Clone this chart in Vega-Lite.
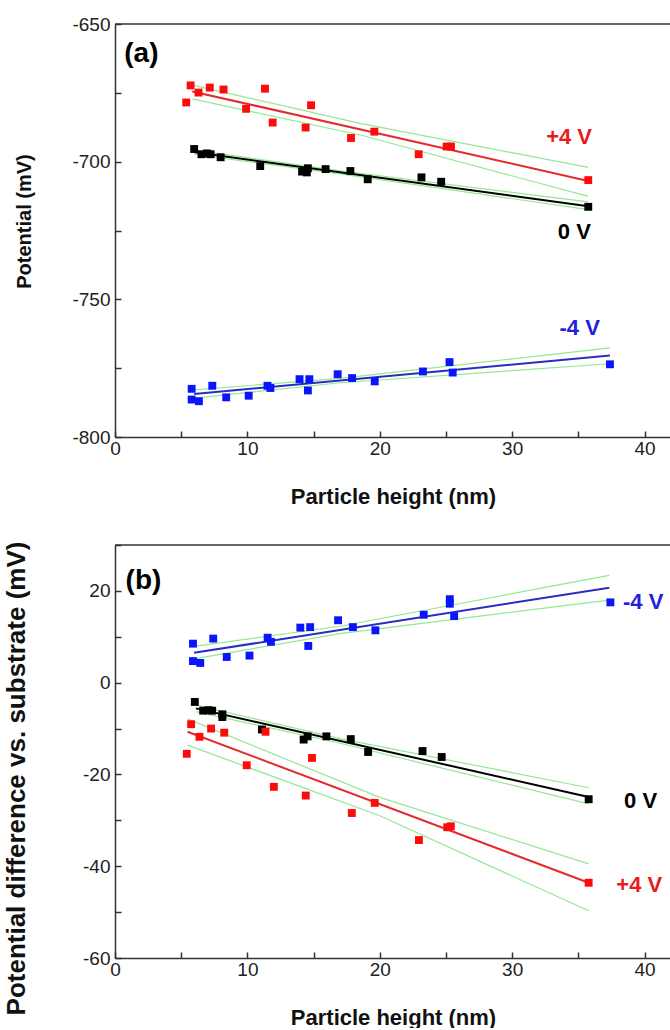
{
  "$schema": "https://vega.github.io/schema/vega-lite/v6.json",
  "background": "white",
  "padding": {"left": 2, "top": 15, "right": 0, "bottom": 0},
  "spacing": 29,
  "config": {
    "view": {"stroke": null},
    "font": "Liberation Sans",
    "axis": {
      "domainColor": "#333", "domainWidth": 1.5, "tickColor": "#333", "tickWidth": 1.5,
      "tickSize": -6, "labelPadding": 8, "labelFont": "Liberation Sans", "labelFontSize": 19,
      "labelColor": "#222", "titleFont": "Liberation Sans", "titleFontSize": 22, "titleFontWeight": "bold",
      "titleColor": "#111", "grid": false, "labelOverlap": false, "labelFlush": false
    }
  },
  "datasets": {
    "apts": [
      {"s": "+4 V", "h": 5.38, "v": -678.5}, {"s": "+4 V", "h": 5.71, "v": -672.3}, {"s": "+4 V", "h": 6.31, "v": -674.9},
      {"s": "+4 V", "h": 7.16, "v": -673.1}, {"s": "+4 V", "h": 8.2, "v": -673.8}, {"s": "+4 V", "h": 9.9, "v": -680.8},
      {"s": "+4 V", "h": 11.33, "v": -673.5}, {"s": "+4 V", "h": 11.91, "v": -685.8}, {"s": "+4 V", "h": 14.4, "v": -687.6},
      {"s": "+4 V", "h": 14.81, "v": -679.5}, {"s": "+4 V", "h": 17.83, "v": -691.4}, {"s": "+4 V", "h": 19.59, "v": -689.1},
      {"s": "+4 V", "h": 22.94, "v": -697.3}, {"s": "+4 V", "h": 25.05, "v": -694.5}, {"s": "+4 V", "h": 25.38, "v": -694.5},
      {"s": "+4 V", "h": 35.75, "v": -706.7},
      {"s": "0 V", "h": 5.98, "v": -695.4}, {"s": "0 V", "h": 6.53, "v": -697.3}, {"s": "0 V", "h": 6.94, "v": -697.0},
      {"s": "0 V", "h": 7.22, "v": -697.3}, {"s": "0 V", "h": 7.98, "v": -698.4}, {"s": "0 V", "h": 10.97, "v": -701.6},
      {"s": "0 V", "h": 14.13, "v": -703.6}, {"s": "0 V", "h": 14.49, "v": -703.9}, {"s": "0 V", "h": 14.57, "v": -702.4},
      {"s": "0 V", "h": 15.91, "v": -702.7}, {"s": "0 V", "h": 17.78, "v": -703.4}, {"s": "0 V", "h": 19.09, "v": -706.4},
      {"s": "0 V", "h": 23.15, "v": -705.7}, {"s": "0 V", "h": 24.64, "v": -707.3}, {"s": "0 V", "h": 35.75, "v": -716.4},
      {"s": "-4 V", "h": 5.79, "v": -782.5}, {"s": "-4 V", "h": 5.79, "v": -786.4}, {"s": "-4 V", "h": 6.34, "v": -787.0},
      {"s": "-4 V", "h": 7.35, "v": -781.4}, {"s": "-4 V", "h": 8.4, "v": -785.6}, {"s": "-4 V", "h": 10.1, "v": -785.0},
      {"s": "-4 V", "h": 11.52, "v": -781.4}, {"s": "-4 V", "h": 11.74, "v": -782.2}, {"s": "-4 V", "h": 13.94, "v": -779.0},
      {"s": "-4 V", "h": 14.68, "v": -779.0}, {"s": "-4 V", "h": 14.57, "v": -783.1}, {"s": "-4 V", "h": 16.82, "v": -777.2},
      {"s": "-4 V", "h": 17.91, "v": -778.6}, {"s": "-4 V", "h": 19.62, "v": -779.8}, {"s": "-4 V", "h": 23.26, "v": -776.2},
      {"s": "-4 V", "h": 25.27, "v": -772.8}, {"s": "-4 V", "h": 25.51, "v": -776.6}, {"s": "-4 V", "h": 37.39, "v": -773.6}
    ],
    "afit": [
      {"s": "+4 V", "k": "fit", "h": 5.84, "v": -674.5}, {"s": "+4 V", "k": "fit", "h": 35.75, "v": -707.0},
      {"s": "+4 V", "k": "upper", "h": 5.84, "v": -672.2}, {"s": "+4 V", "k": "upper", "h": 18.6, "v": -686.2}, {"s": "+4 V", "k": "upper", "h": 35.75, "v": -702.1},
      {"s": "+4 V", "k": "lower", "h": 5.84, "v": -677.2}, {"s": "+4 V", "k": "lower", "h": 18.6, "v": -690.4}, {"s": "+4 V", "k": "lower", "h": 35.75, "v": -712.6},
      {"s": "0 V", "k": "fit", "h": 6.0, "v": -696.6}, {"s": "0 V", "k": "fit", "h": 35.75, "v": -716.2},
      {"s": "0 V", "k": "upper", "h": 6.0, "v": -695.8}, {"s": "0 V", "k": "upper", "h": 17, "v": -703.3}, {"s": "0 V", "k": "upper", "h": 35.75, "v": -714.6},
      {"s": "0 V", "k": "lower", "h": 6.0, "v": -697.4}, {"s": "0 V", "k": "lower", "h": 17, "v": -704.4}, {"s": "0 V", "k": "lower", "h": 35.75, "v": -717.4},
      {"s": "-4 V", "k": "fit", "h": 5.98, "v": -784.4}, {"s": "-4 V", "k": "fit", "h": 37.39, "v": -770.4},
      {"s": "-4 V", "k": "upper", "h": 5.98, "v": -782.9}, {"s": "-4 V", "k": "upper", "h": 17, "v": -778.7}, {"s": "-4 V", "k": "upper", "h": 37.39, "v": -767.6},
      {"s": "-4 V", "k": "lower", "h": 5.98, "v": -785.9}, {"s": "-4 V", "k": "lower", "h": 17, "v": -780.3}, {"s": "-4 V", "k": "lower", "h": 37.39, "v": -773.4}
    ],
    "albl": [
      {"s": "+4 V", "h": 34.3, "v": -690.9}, {"s": "0 V", "h": 34.7, "v": -725.6}, {"s": "-4 V", "h": 35.1, "v": -760.5}
    ],
    "bpts": [
      {"s": "-4 V", "h": 5.89, "v": 8.5}, {"s": "-4 V", "h": 5.89, "v": 4.7}, {"s": "-4 V", "h": 6.44, "v": 4.3},
      {"s": "-4 V", "h": 7.42, "v": 9.6}, {"s": "-4 V", "h": 8.44, "v": 5.6}, {"s": "-4 V", "h": 10.16, "v": 5.9},
      {"s": "-4 V", "h": 11.53, "v": 9.8}, {"s": "-4 V", "h": 11.78, "v": 8.9}, {"s": "-4 V", "h": 14.0, "v": 12.0},
      {"s": "-4 V", "h": 14.74, "v": 12.1}, {"s": "-4 V", "h": 14.6, "v": 8.0}, {"s": "-4 V", "h": 16.85, "v": 13.6},
      {"s": "-4 V", "h": 17.97, "v": 12.1}, {"s": "-4 V", "h": 19.67, "v": 11.4}, {"s": "-4 V", "h": 23.32, "v": 14.8},
      {"s": "-4 V", "h": 25.29, "v": 18.2}, {"s": "-4 V", "h": 25.29, "v": 17.2}, {"s": "-4 V", "h": 25.62, "v": 14.5},
      {"s": "-4 V", "h": 37.42, "v": 17.5},
      {"s": "0 V", "h": 6.03, "v": -4.2}, {"s": "0 V", "h": 6.66, "v": -6.1}, {"s": "0 V", "h": 7.07, "v": -6.0},
      {"s": "0 V", "h": 7.34, "v": -6.1}, {"s": "0 V", "h": 8.11, "v": -6.9}, {"s": "0 V", "h": 8.11, "v": -7.5},
      {"s": "0 V", "h": 11.1, "v": -10.2}, {"s": "0 V", "h": 14.25, "v": -12.4}, {"s": "0 V", "h": 14.55, "v": -11.7},
      {"s": "0 V", "h": 15.97, "v": -11.7}, {"s": "0 V", "h": 17.81, "v": -12.3}, {"s": "0 V", "h": 19.12, "v": -15.1},
      {"s": "0 V", "h": 23.23, "v": -14.9}, {"s": "0 V", "h": 24.68, "v": -16.2}, {"s": "0 V", "h": 35.78, "v": -25.4},
      {"s": "+4 V", "h": 5.42, "v": -15.5}, {"s": "+4 V", "h": 5.75, "v": -9.05}, {"s": "+4 V", "h": 6.38, "v": -11.8},
      {"s": "+4 V", "h": 7.26, "v": -10.0}, {"s": "+4 V", "h": 8.25, "v": -10.9}, {"s": "+4 V", "h": 9.95, "v": -18.0},
      {"s": "+4 V", "h": 11.37, "v": -10.7}, {"s": "+4 V", "h": 12.0, "v": -22.7}, {"s": "+4 V", "h": 14.41, "v": -24.6},
      {"s": "+4 V", "h": 14.88, "v": -16.4}, {"s": "+4 V", "h": 17.89, "v": -28.4}, {"s": "+4 V", "h": 19.62, "v": -26.2},
      {"s": "+4 V", "h": 22.96, "v": -34.3}, {"s": "+4 V", "h": 25.1, "v": -31.5}, {"s": "+4 V", "h": 25.37, "v": -31.3},
      {"s": "+4 V", "h": 35.78, "v": -43.6}
    ],
    "bfit": [
      {"s": "-4 V", "k": "fit", "h": 5.97, "v": 6.5}, {"s": "-4 V", "k": "fit", "h": 37.34, "v": 20.7},
      {"s": "-4 V", "k": "upper", "h": 5.97, "v": 7.9}, {"s": "-4 V", "k": "upper", "h": 17, "v": 12.3}, {"s": "-4 V", "k": "upper", "h": 37.34, "v": 23.4},
      {"s": "-4 V", "k": "lower", "h": 5.97, "v": 5.2}, {"s": "-4 V", "k": "lower", "h": 17, "v": 10.7}, {"s": "-4 V", "k": "lower", "h": 37.34, "v": 18.0},
      {"s": "0 V", "k": "fit", "h": 6.11, "v": -5.6}, {"s": "0 V", "k": "fit", "h": 35.78, "v": -24.9},
      {"s": "0 V", "k": "upper", "h": 6.11, "v": -4.9}, {"s": "0 V", "k": "upper", "h": 17, "v": -12.2}, {"s": "0 V", "k": "upper", "h": 35.78, "v": -22.9},
      {"s": "0 V", "k": "lower", "h": 6.11, "v": -6.3}, {"s": "0 V", "k": "lower", "h": 17, "v": -13.2}, {"s": "0 V", "k": "lower", "h": 35.78, "v": -26.4},
      {"s": "+4 V", "k": "fit", "h": 5.48, "v": -10.7}, {"s": "+4 V", "k": "fit", "h": 35.78, "v": -43.6},
      {"s": "+4 V", "k": "upper", "h": 5.48, "v": -7.9}, {"s": "+4 V", "k": "upper", "h": 20, "v": -25.0}, {"s": "+4 V", "k": "upper", "h": 35.78, "v": -39.5},
      {"s": "+4 V", "k": "lower", "h": 5.48, "v": -13.6}, {"s": "+4 V", "k": "lower", "h": 20, "v": -29.0}, {"s": "+4 V", "k": "lower", "h": 35.78, "v": -49.7}
    ],
    "blbl": [
      {"s": "-4 V", "h": 39.9, "v": 17.6}, {"s": "0 V", "h": 39.7, "v": -25.7}, {"s": "+4 V", "h": 39.6, "v": -44.1}
    ]
  },
  "vconcat": [
    {
      "width": 556, "height": 413,
      "resolve": {"scale": {"color": "independent"}},
      "layer": [
        {
          "data": {"name": "afit"},
          "transform": [{"filter": "datum.k !== 'fit'"}],
          "mark": {"type": "line", "color": "#94e894", "strokeWidth": 1.2},
          "encoding": {
            "x": {"field": "h", "type": "quantitative", "scale": {"domain": [0, 42], "nice": false, "zero": false},
              "axis": {"title": "Particle height (nm)", "values": [0, 5, 10, 15, 20, 25, 30, 35, 40], "labelExpr": "datum.value % 10 === 0 ? '' + datum.value : ''", "titlePadding": 28}},
            "y": {"field": "v", "type": "quantitative", "scale": {"domain": [-800, -650], "nice": false, "zero": false},
              "axis": {"title": "Potential (mV)", "titleFontSize": 20, "labelPadding": 11, "values": [-800, -775, -750, -725, -700, -675, -650], "labelExpr": "datum.value % 50 === 0 ? '' + datum.value : ''", "minExtent": 50, "maxExtent": 50, "titlePadding": 31, "titleY": 197}},
            "detail": [{"field": "s"}, {"field": "k"}],
            "order": {"field": "h"}
          }
        },
        {
          "data": {"name": "afit"},
          "transform": [{"filter": "datum.k === 'fit'"}],
          "mark": {"type": "line", "strokeWidth": 2},
          "encoding": {
            "x": {"field": "h", "type": "quantitative"},
            "y": {"field": "v", "type": "quantitative"},
            "color": {"field": "s", "type": "nominal", "scale": {"domain": ["+4 V", "0 V", "-4 V"], "range": ["#e42a2a", "#000000", "#2b2bc4"]}, "legend": null},
            "order": {"field": "h"}
          }
        },
        {
          "data": {"name": "apts"},
          "mark": {"type": "point", "shape": "square", "filled": true, "opacity": 1, "size": 62},
          "encoding": {
            "x": {"field": "h", "type": "quantitative"},
            "y": {"field": "v", "type": "quantitative"},
            "color": {"field": "s", "type": "nominal", "scale": {"domain": ["+4 V", "0 V", "-4 V"], "range": ["#ff0a0a", "#000000", "#0a14ff"]}, "legend": null}
          }
        },
        {
          "data": {"name": "albl"},
          "mark": {"type": "text", "fontSize": 22, "fontWeight": "bold", "align": "center", "baseline": "middle"},
          "encoding": {
            "x": {"field": "h", "type": "quantitative"},
            "y": {"field": "v", "type": "quantitative"},
            "text": {"field": "s"},
            "color": {"field": "s", "type": "nominal", "scale": {"domain": ["+4 V", "0 V", "-4 V"], "range": ["#e81c1c", "#000000", "#2222dd"]}, "legend": null}
          }
        },
        {
          "data": {"values": [{"lab": "(a)"}]},
          "mark": {"type": "text", "fontSize": 28, "fontWeight": "bold", "align": "left", "baseline": "middle", "color": "#000"},
          "encoding": {"x": {"datum": 0.7}, "y": {"datum": -660.8}, "text": {"field": "lab"}}
        },
        {
          "data": {"values": [{}]},
          "mark": {"type": "rule", "color": "#333", "strokeWidth": 1.5},
          "encoding": {"x": {"datum": 0}, "x2": {"datum": 42}, "y": {"datum": -650}}
        }
      ]
    },
    {
      "width": 556, "height": 413,
      "resolve": {"scale": {"color": "independent"}},
      "layer": [
        {
          "data": {"name": "bfit"},
          "transform": [{"filter": "datum.k !== 'fit'"}],
          "mark": {"type": "line", "color": "#94e894", "strokeWidth": 1.2},
          "encoding": {
            "x": {"field": "h", "type": "quantitative", "scale": {"domain": [0, 42], "nice": false, "zero": false},
              "axis": {"title": "Particle height (nm)", "values": [0, 5, 10, 15, 20, 25, 30, 35, 40], "labelExpr": "datum.value % 10 === 0 ? '' + datum.value : ''", "titlePadding": 28}},
            "y": {"field": "v", "type": "quantitative", "scale": {"domain": [-60, 30], "nice": false, "zero": false},
              "axis": {"title": "Potential difference vs. substrate (mV)", "titleFontSize": 26, "labelPadding": 11, "values": [-60, -50, -40, -30, -20, -10, 0, 10, 20, 30], "labelExpr": "datum.value % 20 === 0 ? '' + datum.value : ''", "minExtent": 50, "maxExtent": 50, "titlePadding": 36, "titleY": 233}},
            "detail": [{"field": "s"}, {"field": "k"}],
            "order": {"field": "h"}
          }
        },
        {
          "data": {"name": "bfit"},
          "transform": [{"filter": "datum.k === 'fit'"}],
          "mark": {"type": "line", "strokeWidth": 2},
          "encoding": {
            "x": {"field": "h", "type": "quantitative"},
            "y": {"field": "v", "type": "quantitative"},
            "color": {"field": "s", "type": "nominal", "scale": {"domain": ["+4 V", "0 V", "-4 V"], "range": ["#e42a2a", "#000000", "#2b2bc4"]}, "legend": null},
            "order": {"field": "h"}
          }
        },
        {
          "data": {"name": "bpts"},
          "mark": {"type": "point", "shape": "square", "filled": true, "opacity": 1, "size": 62},
          "encoding": {
            "x": {"field": "h", "type": "quantitative"},
            "y": {"field": "v", "type": "quantitative"},
            "color": {"field": "s", "type": "nominal", "scale": {"domain": ["+4 V", "0 V", "-4 V"], "range": ["#ff0a0a", "#000000", "#0a14ff"]}, "legend": null}
          }
        },
        {
          "data": {"name": "blbl"},
          "mark": {"type": "text", "fontSize": 22, "fontWeight": "bold", "align": "center", "baseline": "middle"},
          "encoding": {
            "x": {"field": "h", "type": "quantitative"},
            "y": {"field": "v", "type": "quantitative"},
            "text": {"field": "s"},
            "color": {"field": "s", "type": "nominal", "scale": {"domain": ["+4 V", "0 V", "-4 V"], "range": ["#e81c1c", "#000000", "#2222dd"]}, "legend": null}
          }
        },
        {
          "data": {"values": [{"lab": "(b)"}]},
          "mark": {"type": "text", "fontSize": 28, "fontWeight": "bold", "align": "left", "baseline": "middle", "color": "#000"},
          "encoding": {"x": {"datum": 0.8}, "y": {"datum": 22.1}, "text": {"field": "lab"}}
        },
        {
          "data": {"values": [{}]},
          "mark": {"type": "rule", "color": "#333", "strokeWidth": 1.5},
          "encoding": {"x": {"datum": 0}, "x2": {"datum": 42}, "y": {"datum": 30}}
        }
      ]
    }
  ]
}
